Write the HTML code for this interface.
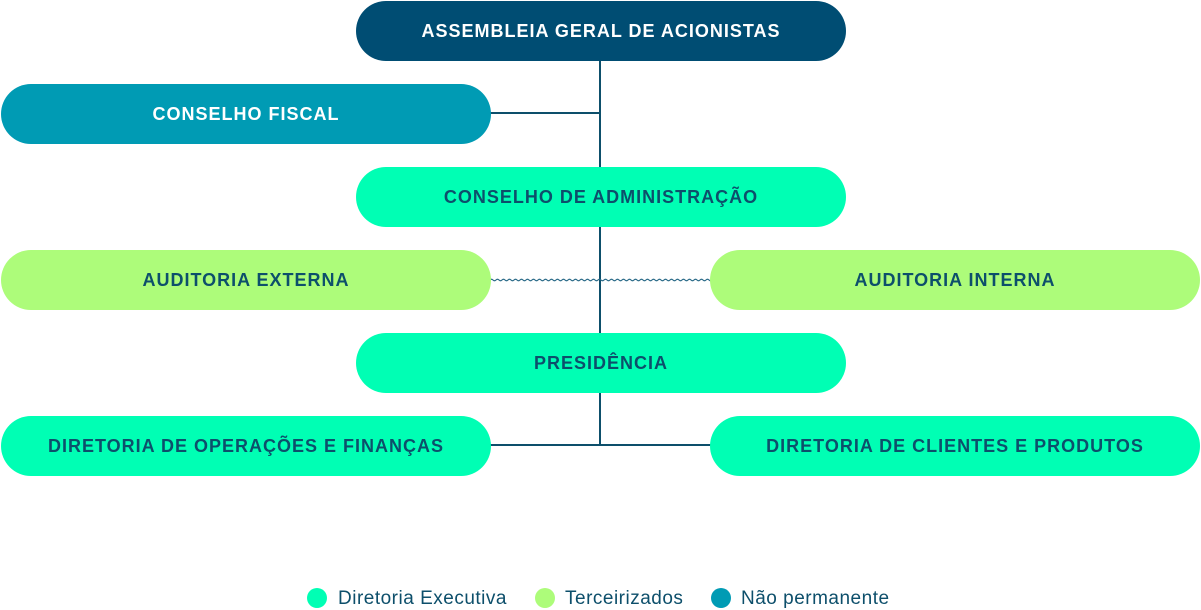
<!DOCTYPE html>
<html><head><meta charset="utf-8"><style>
body{margin:0;width:1201px;height:609px;background:#fff;position:relative;overflow:hidden;font-family:"Liberation Sans",sans-serif}
.b{position:absolute;height:60px;border-radius:30px;display:flex;align-items:center;justify-content:center;font-weight:bold;font-size:18px;color:#0d4f6b;letter-spacing:1px}
.l{position:absolute;background:#0d4f6b}
.dot{position:absolute;width:20px;height:20px;border-radius:50%;top:588px}
.t{position:absolute;top:588px;font-size:19px;color:#0d4f6b;letter-spacing:0.5px}
</style></head><body>
<div class="l" style="left:599px;top:60px;width:2px;height:386px"></div>
<div class="l" style="left:490px;top:112px;width:110px;height:2px"></div>
<div class="l" style="left:490px;top:444px;width:222px;height:2px"></div>
<svg style="position:absolute;left:490px;top:277px" width="222" height="6"><path d="M0 3 q1.5 -1.5 3 0 t3 0 t3 0 t3 0 t3 0 t3 0 t3 0 t3 0 t3 0 t3 0 t3 0 t3 0 t3 0 t3 0 t3 0 t3 0 t3 0 t3 0 t3 0 t3 0 t3 0 t3 0 t3 0 t3 0 t3 0 t3 0 t3 0 t3 0 t3 0 t3 0 t3 0 t3 0 t3 0 t3 0 t3 0 t3 0 t3 0 t3 0 t3 0 t3 0 t3 0 t3 0 t3 0 t3 0 t3 0 t3 0 t3 0 t3 0 t3 0 t3 0 t3 0 t3 0 t3 0 t3 0 t3 0 t3 0 t3 0 t3 0 t3 0 t3 0 t3 0 t3 0 t3 0 t3 0 t3 0 t3 0 t3 0 t3 0 t3 0 t3 0 t3 0 t3 0 t3 0 t3 0 t3 0 t3 0 t3 0 t3 0 t3 0 t3 0" fill="none" stroke="#2a6a88" stroke-width="1.2"/></svg>
<div class="b" style="left:356px;top:1px;width:490px;background:#004d73;color:#fff">ASSEMBLEIA GERAL DE ACIONISTAS</div>
<div class="b" style="left:1px;top:84px;width:490px;background:#009bb4;color:#fff">CONSELHO FISCAL</div>
<div class="b" style="left:356px;top:167px;width:490px;background:#00ffb4">CONSELHO DE ADMINISTRAÇÃO</div>
<div class="b" style="left:1px;top:250px;width:490px;background:#adfc7a">AUDITORIA EXTERNA</div>
<div class="b" style="left:710px;top:250px;width:490px;background:#adfc7a">AUDITORIA INTERNA</div>
<div class="b" style="left:356px;top:333px;width:490px;background:#00ffb4">PRESIDÊNCIA</div>
<div class="b" style="left:1px;top:416px;width:490px;background:#00ffb4">DIRETORIA DE OPERAÇÕES E FINANÇAS</div>
<div class="b" style="left:710px;top:416px;width:490px;background:#00ffb4">DIRETORIA DE CLIENTES E PRODUTOS</div>
<div class="dot" style="left:307px;background:#00ffb4"></div><div class="t" style="left:338px">Diretoria Executiva</div>
<div class="dot" style="left:535px;background:#adfc7a"></div><div class="t" style="left:565px">Terceirizados</div>
<div class="dot" style="left:711px;background:#009bb4"></div><div class="t" style="left:741px">Não permanente</div>
</body></html>
